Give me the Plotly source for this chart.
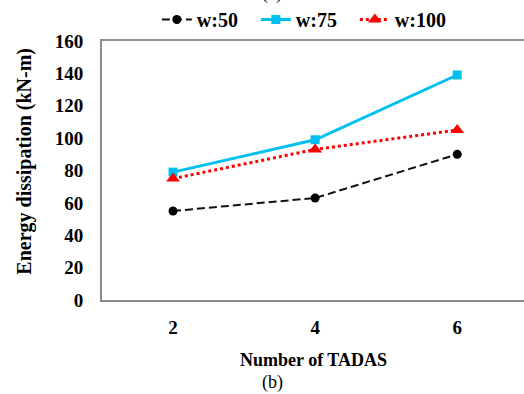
import plotly.graph_objects as go

# Number of TADAS dampers and the energy dissipated for each web width
tadas = [2, 4, 6]
tick_text = ["2", "4", "6"]
w50 = [55, 63, 90]
w75 = [79, 99, 139]
w100 = [75, 93, 105]
y_ticks = [0, 20, 40, 60, 80, 100, 120, 140, 160]

SERIF = "Liberation Serif"

fig = go.Figure()
fig.add_trace(go.Scatter(
    x=tadas, y=w50, name="w:50", mode="lines+markers",
    line=dict(color="#111111", width=2, dash="8px,4px"),
    marker=dict(symbol="circle", size=9, color="#000000"),
))
fig.add_trace(go.Scatter(
    x=tadas, y=w75, name="w:75", mode="lines+markers",
    line=dict(color="#00C0F0", width=3),
    marker=dict(symbol="square", size=9, color="#00C0F0"),
))
fig.add_trace(go.Scatter(
    x=tadas, y=w100, name="w:100", mode="lines+markers",
    line=dict(color="#FF0000", width=3, dash="3px,3px"),
    marker=dict(symbol="triangle-up", size=12, color="#FF0000"),
))

fig.update_layout(
    width=524, height=394,
    margin=dict(l=102, r=0, t=41, b=94),
    paper_bgcolor="white", plot_bgcolor="white",
    font=dict(family=SERIF, color="#000000"),
    showlegend=True,
    legend=dict(
        orientation="h", xref="paper", yref="paper",
        x=0.13, y=1.083, xanchor="left", yanchor="middle",
        font=dict(family=SERIF, size=20, weight="bold"),
        itemwidth=30, entrywidth=54, bgcolor="rgba(0,0,0,0)",
    ),
    xaxis=dict(
        range=[1.0, 6.94], tickvals=tadas, ticktext=tick_text,
        showgrid=False, zeroline=False,
        showline=True, linecolor="#8C8C8C", linewidth=2, mirror=True,
        ticks="", ticklabelstandoff=9,
        tickfont=dict(family=SERIF, size=19, weight="bold"),
    ),
    yaxis=dict(
        range=[0, 160], tickvals=y_ticks,
        showgrid=False, zeroline=False,
        showline=True, linecolor="#8C8C8C", linewidth=2, mirror=False,
        ticks="", ticklabelstandoff=13,
        tickfont=dict(family=SERIF, size=19, weight="bold"),
    ),
    annotations=[
        dict(text="Energy dissipation (kN-m)", xref="paper", yref="paper",
             x=-0.183, y=0.537, textangle=-90,
             xanchor="center", yanchor="middle", showarrow=False,
             font=dict(family=SERIF, size=20, weight="bold", color="#000000")),
        dict(text="Number of TADAS", xref="paper", yref="paper",
             x=0.501, y=-0.23,
             xanchor="center", yanchor="middle", showarrow=False,
             font=dict(family=SERIF, size=18, weight="bold", color="#000000")),
        dict(text="(b)", xref="paper", yref="paper", x=0.403, y=-0.32,
             xanchor="center", yanchor="middle", showarrow=False,
             font=dict(family=SERIF, size=18, color="#000000")),
        dict(text="(a)", xref="paper", yref="paper", x=0.403, y=1.183,
             xanchor="center", yanchor="middle", showarrow=False,
             font=dict(family=SERIF, size=18, color="#000000")),
    ],
)

fig.write_html("out.html")
